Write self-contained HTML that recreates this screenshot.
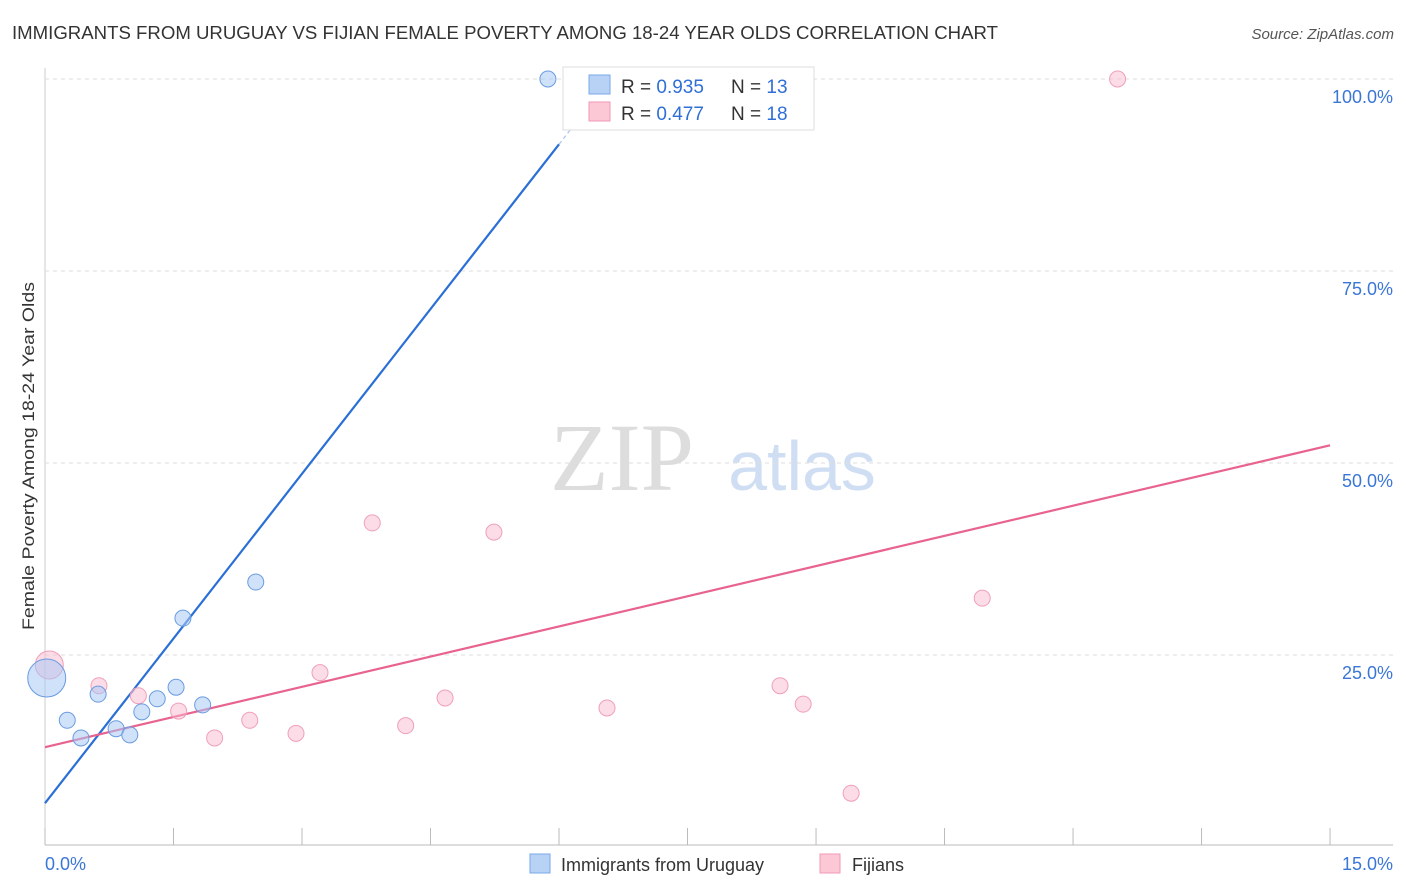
<!DOCTYPE html>
<html><head><meta charset="utf-8"><style>
body{margin:0;background:#fff;font-family:"Liberation Sans",sans-serif}
svg{display:block}
</style></head><body>
<svg id="c" width="1406" height="892">
<text x="12" y="39" font-size="18" fill="#333" textLength="986" lengthAdjust="spacingAndGlyphs">IMMIGRANTS FROM URUGUAY VS FIJIAN FEMALE POVERTY AMONG 18-24 YEAR OLDS CORRELATION CHART</text>
<text x="1394" y="39" font-size="15" fill="#555" font-style="italic" text-anchor="end">Source: ZipAtlas.com</text>
<text x="622" y="490" font-size="96" fill="#ddd" font-family="Liberation Serif,serif" text-anchor="middle">ZIP</text>
<text x="802" y="490" font-size="70" fill="#d0def4" text-anchor="middle">atlas</text>
<text transform="translate(34,456) rotate(-90)" font-size="17" fill="#333" text-anchor="middle" textLength="348" lengthAdjust="spacingAndGlyphs">Female Poverty Among 18-24 Year Olds</text>
<g id="grid"></g><g id="lines"></g><g id="pts"></g>
<g>
<rect x="563" y="67" width="251" height="63" fill="#fff" stroke="#ddd"/>
<rect x="589" y="75" width="21" height="19" fill="#b8d2f5" stroke="#7aa8e8"/>
<rect x="589" y="102" width="21" height="19" fill="#fcc8d6" stroke="#f099b4"/>
<text x="621" y="93" font-size="19" fill="#333">R = <tspan fill="#2f6fd6">0.935</tspan></text>
<text x="731" y="93" font-size="19" fill="#333">N = <tspan fill="#2f6fd6">13</tspan></text>
<text x="621" y="120" font-size="19" fill="#333">R = <tspan fill="#2f6fd6">0.477</tspan></text>
<text x="731" y="120" font-size="19" fill="#333">N = <tspan fill="#2f6fd6">18</tspan></text>
</g>
<g>
<rect x="530" y="854" width="20" height="19" fill="#b8d2f5" stroke="#7aa8e8"/>
<text x="561" y="871" font-size="18" fill="#333">Immigrants from Uruguay</text>
<rect x="820" y="854" width="20" height="19" fill="#fcc8d6" stroke="#f099b4"/>
<text x="852" y="871" font-size="18" fill="#333">Fijians</text>
</g>
</svg>
<script>
const blueX=[5.87,2.46,1.61,1.53,1.84,1.31,1.13,0.62,0.26,0.42,0.83,0.99,0.02];
const blueY=[100,34.5,29.8,20.8,18.5,19.3,17.6,19.9,16.5,14.2,15.4,14.6,22.0];
const pinkX=[12.52,3.82,5.24,10.94,3.21,0.05,0.63,1.09,1.56,2.39,1.98,2.93,4.21,4.67,6.56,8.58,8.85,9.41];
const pinkY=[100,42.2,41.0,32.4,22.7,23.7,21.0,19.7,17.7,16.5,14.2,14.8,15.8,19.4,18.1,21.0,18.6,7.0];
const blueLine=[5.7,14.3];
const pinkLine=[13.0,2.62];
const yTicks=[25,50,75,100];
const xTickLabels=["0.0%","15.0%"];
const NS="http://www.w3.org/2000/svg";
const sx=v=>45+v*85.67, sy=v=>847-v*7.68;
function mk(p,t,a){const e=document.createElementNS(NS,t);for(const k in a)e.setAttribute(k,a[k]);document.getElementById(p).appendChild(e);return e;}
let ax=mk('grid','line',{x1:45,y1:845,x2:1393,y2:845,stroke:'#bbb'});


let ay=mk('grid','line',{x1:45,y1:68,x2:45,y2:845,stroke:'#ccc'});


for(let i=0;i<=10;i++){let t=mk('grid','line',{x1:sx(i*1.5),y1:828,x2:sx(i*1.5),y2:845,stroke:'#bbb'});

}
yTicks.forEach(v=>{let g=mk('grid','line',{x1:45,y1:sy(v),x2:1393,y2:sy(v),stroke:'#ddd','stroke-dasharray':'4 4'});


let t=mk('grid','text',{x:1393,y:sy(v)+24,'font-size':18,fill:'#3a76d6','text-anchor':'end'});t.textContent=v.toFixed(1)+'%';

});
[[0,45,'start'],[15,1393,'end']].forEach((d,i)=>{let t=mk('grid','text',{x:d[1],y:870,'font-size':18,fill:'#3a76d6','text-anchor':d[2]});t.textContent=xTickLabels[i];

});
let x1=(91.5-blueLine[0])/blueLine[1];
let bl=mk('lines','line',{x1:sx(0),y1:sy(blueLine[0]),x2:sx(x1),y2:sy(91.5),stroke:'#2a6fd6','stroke-width':2.2});


let x2=(101-blueLine[0])/blueLine[1];
let bd=mk('lines','line',{x1:sx(x1),y1:sy(91.5),x2:sx(x2),y2:sy(101),stroke:'#aac4ee','stroke-width':1.2,'stroke-dasharray':'4 3'});


let pl=mk('lines','line',{x1:sx(0),y1:sy(pinkLine[0]),x2:sx(15),y2:sy(pinkLine[0]+15*pinkLine[1]),stroke:'#e8638e','stroke-width':2.2});


pinkX.forEach((x,i)=>{let c=mk('pts','circle',{cx:sx(x),cy:sy(pinkY[i]),r:i==5?14:8,fill:'rgba(250,185,205,0.5)',stroke:'#f0a0b8','stroke-width':1});

});
blueX.forEach((x,i)=>{let c=mk('pts','circle',{cx:sx(x),cy:sy(blueY[i]),r:i==12?19:8,fill:'rgba(170,200,245,0.55)',stroke:'#6a9ce0','stroke-width':1});

});
</script>
</body></html>
